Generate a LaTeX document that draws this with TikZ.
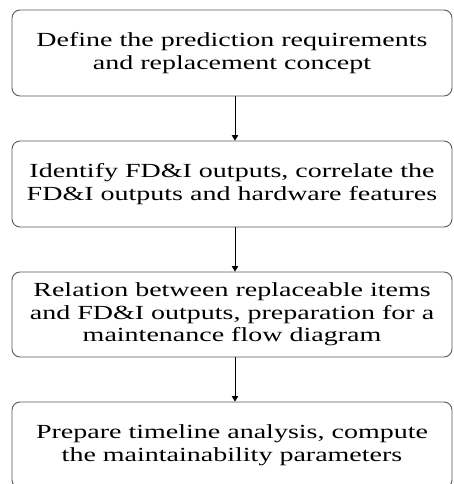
\documentclass[tikz,border=0pt]{standalone}
\usepackage{fontspec}
\setmainfont{Liberation Serif}
\newfontfamily\widefont[FakeStretch=1.4]{Liberation Serif}
\usetikzlibrary{arrows.meta}
\tikzset{
  stepbox/.style={draw=black!65, line width=0.9pt, rounded corners=8pt,
    minimum width=440pt, minimum height=86pt, inner sep=0pt,
    align=center, font=\widefont\fontsize{20}{22.5}\selectfont},
  flow/.style={draw=black, line width=0.8pt,
    -{Triangle[width=6.5pt,length=5.5pt]}}
}
\begin{document}
\begin{tikzpicture}[x=1pt,y=-1pt]
  \useasboundingbox (0,0) rectangle (453,484);
  \clip (0,0) rectangle (453,484);
  \node[stepbox] (b1) at (232,53)
    {Define the prediction requirements\\and replacement concept};
  \node[stepbox] (b2) at (232,184)
    {Identify FD\&I outputs, correlate the\\FD\&I outputs and hardware features};
  \node[stepbox, minimum height=85pt] (b3) at (232,314.5)
    {Relation between replaceable items\\and FD\&I outputs, preparation for a\\maintenance flow diagram};
  \node[stepbox] (b4) at (232,445)
    {Prepare timeline analysis, compute\\the maintainability parameters};
  \draw[flow] ([xshift=3pt]b1.south) -- ([xshift=3pt]b2.north);
  \draw[flow] ([xshift=3pt]b2.south) -- ([xshift=3pt]b3.north);
  \draw[flow] ([xshift=3pt]b3.south) -- ([xshift=3pt]b4.north);
\end{tikzpicture}
\end{document}
